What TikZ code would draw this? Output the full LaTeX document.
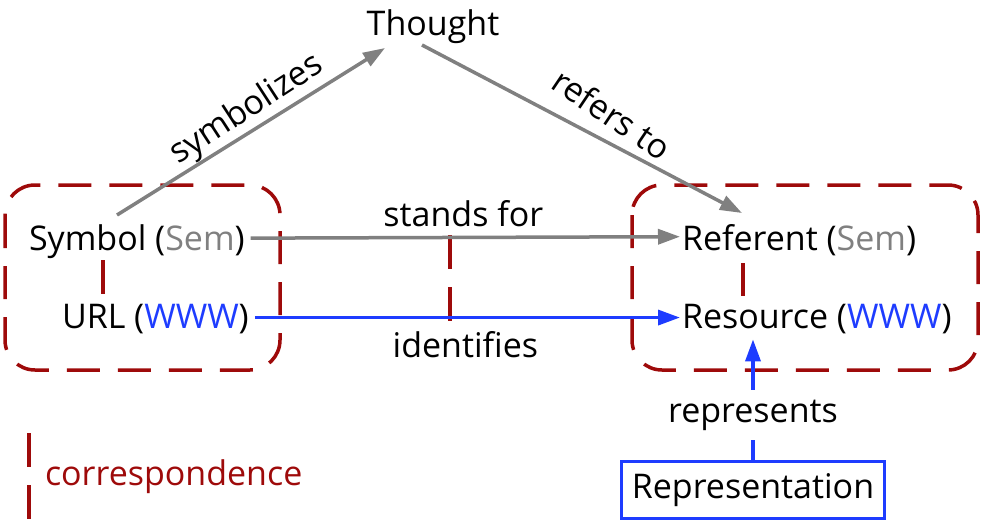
\documentclass[tikz,border=0pt]{standalone}
\usepackage{fontspec}
\setmainfont{Open Sans}
\usetikzlibrary{arrows.meta}
\definecolor{dred}{RGB}{158,10,10}
\definecolor{wblue}{RGB}{30,60,255}
\definecolor{sgray}{RGB}{128,128,128}
\begin{document}
\begin{tikzpicture}[x=1pt,y=-1pt,
 lbl/.style={inner sep=0pt, outer sep=0pt, font=\fontsize{34}{40}\selectfont},
 grayarr/.style={draw=sgray, line width=3.5pt, -{Triangle[length=22pt,width=15pt]}},
 bluearr/.style={draw=wblue, line width=3.5pt, -{Triangle[length=22pt,width=15pt]}},
 corrbox/.style={draw=dred, line width=3.5pt, rounded corners=30pt, dash pattern=on 33pt off 18pt},
 corrline/.style={draw=dred, line width=3.5pt, dash pattern=on 34pt off 18pt},
 reprbox/.style={lbl, draw=wblue, line width=3pt, minimum width=263pt, minimum height=57pt}
]
\useasboundingbox (0,0) rectangle (983,525);
% correspondence boxes
\draw[corrbox] (5,185) rectangle (280,370);
\draw[corrbox] (632,185) rectangle (978,370);
% text nodes
\node[lbl, anchor=base] (thought) at (433,35) {Thought};
\node[lbl, anchor=base west] (sym) at (29,250) {Symbol (\textcolor{sgray}{Sem})};
\node[lbl, anchor=base west] (url) at (62,328) {URL (\textcolor{wblue}{WWW})};
\node[lbl, anchor=base west] (ref) at (682,250) {Referent (\textcolor{sgray}{Sem})};
\node[lbl, anchor=base west] (res) at (682,328) {Resource (\textcolor{wblue}{WWW})};
\node[reprbox] (repr) at (753,490) {Representation};
% correspondence lines
\draw[corrline] (450,235) -- (450,322);
\draw[corrline] (103,260) -- (103,295);
\draw[corrline] (743,263) -- (743,296);
% arrows
\coordinate (symstart) at (117,215);
\coordinate (symtip) at (385,48);
\coordinate (refstart) at (422,45);
\coordinate (reftip) at (742,213);
\draw[grayarr] (symstart) -- (symtip);
\draw[grayarr] (refstart) -- (reftip);
\node[lbl, rotate=33] (symlbl) at (247,110) {symbolizes};
\node[lbl, rotate=-34] (reflbl) at (612,114) {refers to};
\draw[grayarr, shorten <=6pt, shorten >=2pt] ([yshift=3pt]sym.east) -- node[lbl, above=11pt] (standsfor) {stands for} ([yshift=3pt]ref.west);
\draw[bluearr, shorten <=6pt, shorten >=2pt] ([yshift=1pt]url.east) -- node[lbl, below=14pt] (ident) {identifies} ([yshift=1pt]res.west);
\draw[bluearr] (repr.north) -- node[lbl, pos=0.38, fill=white, inner xsep=4pt, inner ysep=10pt] (reprlbl) {represents} ([yshift=-6pt]repr.north |- res.south);
% legend
\draw[corrline] (29,433) -- (29,525);
\node[lbl, anchor=base west, text=dred] (legend) at (45,485) {correspondence};
\end{tikzpicture}
\end{document}
